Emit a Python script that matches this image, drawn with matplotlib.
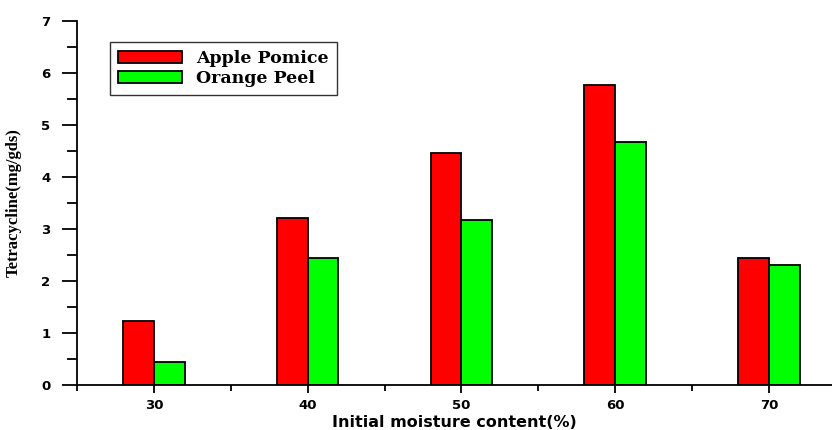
import numpy as np
import matplotlib.pyplot as plt
from matplotlib.ticker import MultipleLocator

moisture = [30, 40, 50, 60, 70]
apple_pomice = [1.23, 3.20, 4.45, 5.77, 2.43]
orange_peel = [0.45, 2.43, 3.17, 4.67, 2.31]
series_names = ["Apple Pomice", "Orange Peel"]

fig = plt.figure(figsize=(8.32, 4.30), dpi=100)
ax = fig.add_axes([0.0925, 0.1047, 0.9075, 0.8475])

x = np.array(moisture)
w = 2.0
ax.bar(x - w / 2, apple_pomice, width=w, color="#ff0000", edgecolor="black",
       linewidth=1.3, label=series_names[0])
ax.bar(x + w / 2, orange_peel, width=w, color="#00ff00", edgecolor="black",
       linewidth=1.3, label=series_names[1])

ax.set_xlim(25, 74.1)
ax.set_ylim(0, 7)
ax.spines["top"].set_visible(False)
ax.spines["right"].set_visible(False)
for s in ["left", "bottom"]:
    ax.spines[s].set_linewidth(1.3)

ax.xaxis.set_major_locator(MultipleLocator(10))
ax.xaxis.set_minor_locator(MultipleLocator(5))
ax.yaxis.set_major_locator(MultipleLocator(1))
ax.yaxis.set_minor_locator(MultipleLocator(0.5))
ax.tick_params(axis="y", which="major", direction="out", length=11, width=1.3, pad=8)
ax.tick_params(axis="y", which="minor", direction="out", length=7, width=1.3)
ax.tick_params(axis="x", which="major", direction="out", length=6, width=1.3, pad=4)
ax.tick_params(axis="x", which="minor", direction="out", length=4, width=1.3)
ax.tick_params(axis="both", labelsize=9.5)
for lab in ax.get_xticklabels() + ax.get_yticklabels():
    lab.set_fontweight("bold")

ax.set_xlabel("Initial moisture content(%)", fontsize=11.5, fontweight="bold",
              family="DejaVu Sans", labelpad=2)
ax.set_ylabel("Tetracycline(mg/gds)", fontsize=12, fontweight="bold",
              family="Liberation Serif", labelpad=14)

leg = ax.legend(loc="upper left", bbox_to_anchor=(0.044, 0.941), frameon=True,
                borderaxespad=0, fancybox=False, edgecolor="black",
                handlelength=3.7, handleheight=0.7, borderpad=0.45,
                labelspacing=0.2, handletextpad=0.8,
                prop={"family": "DejaVu Serif", "weight": "bold", "size": 12.5})
leg.get_frame().set_linewidth(1.0)

fig.savefig("out.png", dpi=100)
